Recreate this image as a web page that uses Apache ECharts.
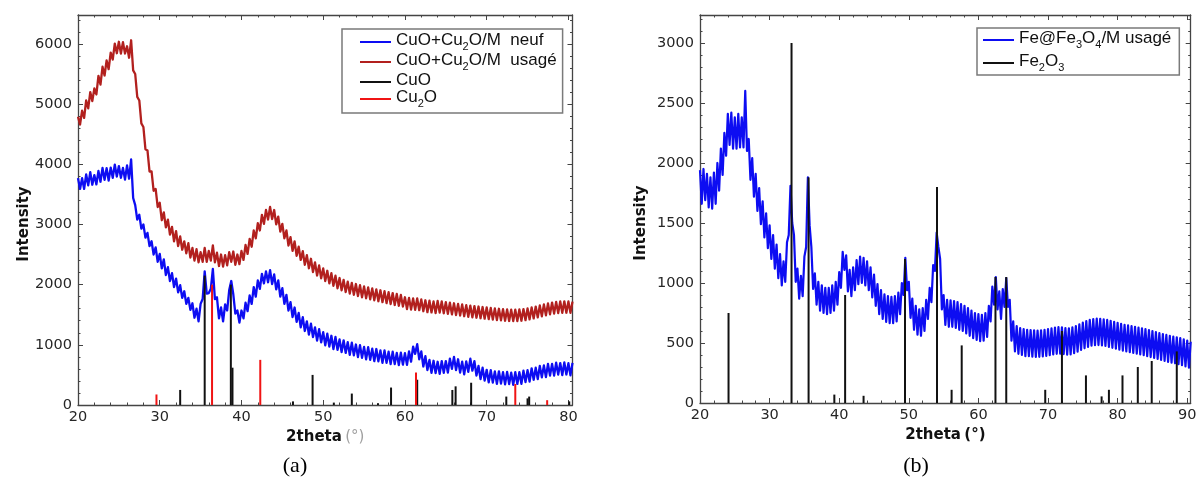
<!DOCTYPE html>
<html>
<head>
<meta charset="utf-8">
<script src="https://cdn.jsdelivr.net/npm/echarts@6/dist/echarts.min.js"></script>
<style>html,body{margin:0;padding:0;background:#fff}#c{width:1196px;height:486px}</style>
</head>
<body>
<div id="c"></div>
<script>
// ---- sampling of the diffractograms: 2theta starts at 20 deg, step 0.25 deg ----
const X_START = 20;
const X_STEP = 0.25;

// (a) CuO+Cu2O/M neuf  (20 .. 80.5), one row = one degree
const cuNeuf = [
3770,3590,3770,3590, 3830,3650,3870,3660, 3820,3665,3890,3710, 3940,3740,3935,3730,
3945,3775,3995,3795, 3970,3775,3940,3745, 3980,3760,4080,3440, 3320,3080,3160,2930,
3000,2780,2860,2640, 2720,2500,2620,2380, 2510,2270,2420,2160, 2290,2060,2190,1960,
2100,1870,1990,1780, 1890,1680,1780,1580, 1690,1450,1600,1390, 1680,1760,2220,1850,
1860,1930,2260,1760, 1790,1440,1620,1390, 1670,1570,1910,2060, 1840,1520,1570,1370,
1570,1440,1700,1560, 1820,1680,1960,1800, 2070,1930,2180,2020, 2220,2040,2240,2010,
2170,1920,2070,1800, 1940,1680,1830,1570, 1710,1460,1620,1380, 1530,1290,1460,1230,
1390,1170,1350,1130, 1290,1070,1260,1040, 1210,990,1185,970, 1150,930,1130,915,
1090,880,1075,865, 1045,835,1035,825, 1005,795,995,785, 965,758,960,752,
935,728,930,725, 908,702,906,700, 885,680,885,680, 866,662,870,670,
862,668,890,720, 970,850,1010,760, 890,640,810,580, 750,535,735,530,
718,518,730,535, 730,540,770,600, 800,580,760,540, 720,510,725,550,
770,570,730,490, 650,430,620,405, 585,375,578,372, 558,353,560,357,
545,342,550,348, 537,336,547,350, 545,352,570,380, 580,390,610,420,
620,430,650,460, 658,465,682,488, 683,488,702,505, 697,498,708,507,
695,493,700
];

// (a) CuO+Cu2O/M usage  (20 .. 80.5)
const cuUsage = [
4790,4660,4890,4770, 5060,4930,5200,5050, 5260,5160,5470,5325, 5620,5475,5725,5580,
5855,5740,6005,5845, 6035,5840,6030,5840, 5960,5770,6060,5560, 5500,5120,5060,4680,
4620,4250,4230,3880, 3880,3560,3590,3290, 3360,3070,3200,2950, 3080,2830,2960,2720,
2890,2640,2800,2580, 2720,2520,2690,2450, 2610,2400,2590,2370, 2540,2380,2610,2380,
2560,2400,2650,2370, 2530,2310,2500,2300, 2490,2320,2540,2380, 2550,2330,2500,2340,
2560,2410,2660,2510, 2760,2630,2900,2770, 3020,2900,3160,3010, 3240,3080,3290,3090,
3240,3000,3130,2880, 3010,2770,2900,2650, 2790,2560,2720,2480, 2630,2410,2555,2330,
2490,2270,2430,2210, 2370,2150,2320,2105, 2270,2060,2230,2020, 2190,1980,2150,1940,
2110,1905,2080,1875, 2050,1850,2030,1830, 2010,1810,1990,1790, 1970,1772,1954,1756,
1938,1740,1922,1724, 1906,1708,1890,1692, 1875,1678,1860,1662, 1845,1648,1830,1635,
1790,1595,1780,1585, 1772,1580,1772,1575, 1755,1558,1740,1542, 1735,1538,1722,1526,
1730,1535,1720,1525, 1710,1515,1700,1505, 1690,1495,1680,1485, 1670,1475,1660,1466,
1652,1458,1644,1450, 1636,1442,1628,1434, 1620,1426,1612,1418, 1605,1412,1599,1406,
1593,1400,1588,1396, 1585,1394,1584,1395, 1587,1400,1594,1409, 1605,1422,1620,1438,
1636,1455,1654,1473, 1672,1490,1688,1506, 1702,1518,1713,1527, 1720,1532,1723,1533,
1722,1530,1718
];

// (b) Fe@Fe3O4/M usage  (20 .. 90.5)
const feUsage = [
1940,1660,1950,1690, 1910,1630,1880,1620, 1920,1660,2000,1770, 2120,1900,2250,2060,
2410,2150,2420,2120, 2380,2120,2410,2130, 2380,2130,2600,2100, 2200,1860,2040,1720,
1910,1600,1790,1490, 1680,1380,1580,1290, 1480,1200,1400,1120, 1320,1040,1240,980,
1180,1010,1340,1400, 1810,1500,1400,1010, 1120,870,1060,890, 1220,1300,1880,1480,
1300,950,1080,820, 1010,770,980,750, 960,740,960,750, 980,770,1010,820,
1090,960,1260,1110, 1230,930,1110,890, 1130,940,1190,990, 1220,1000,1210,980,
1180,940,1130,880, 1070,810,990,740, 940,700,905,675, 890,665,885,665,
890,680,920,740, 1000,900,1210,940, 1010,710,870,610, 810,570,780,560,
790,600,860,700, 960,840,1150,1100, 1420,1300,1200,780, 900,650,860,635,
855,635,850,625, 840,610,825,600, 810,580,790,560, 770,540,750,525,
740,515,735,520, 750,550,810,680, 970,820,1050,780, 930,700,950,800,
1040,800,860,520, 680,430,640,410, 625,400,615,390, 610,390,608,386,
605,384,604,385, 606,388,610,392, 615,398,622,405, 628,410,632,412,
630,408,625,402, 622,405,630,415, 640,428,655,442, 670,456,682,468,
693,477,700,482, 703,483,702,480, 698,475,692,468, 684,460,676,452,
668,444,660,436, 652,429,646,423, 640,417,634,411, 628,405,622,399,
615,391,607,383, 599,375,591,367, 583,359,575,351, 567,343,560,337,
554,331,548,324, 540,315,530,305, 520,295,510
];

// reference patterns: [2theta, intensity]
const cuoSticks = [
[32.5,250],[35.5,2150],[38.7,2000],[38.9,620],[46.3,60],[48.7,500],[51.3,40],[53.5,190],
[56.7,30],[58.3,290],[61.5,420],[65.8,250],[66.2,310],[68.1,370],[72.4,140],[75.0,110],
[75.2,140],[80.1,60]
];
const cu2oSticks = [[29.6,175],[36.4,2000],[42.3,750],[61.35,540],[73.5,350],[77.4,80]];
const fe2o3Sticks = [
[24.1,750],[33.15,3000],[35.6,1880],[39.3,70],[40.85,900],[43.5,60],[49.45,1200],
[54.05,1800],[56.15,110],[57.6,480],[62.45,1050],[64.0,1050],[69.6,110],[72.0,600],
[75.45,230],[77.7,55],[78.75,110],[80.7,230],[82.9,300],[84.9,350],[88.5,430]
];

const NAME_NEUF = 'CuO+Cu2O/M  neuf';
const NAME_USAGE = 'CuO+Cu2O/M  usagé';
const NAME_CUO = 'CuO';
const NAME_CU2O = 'Cu2O';
const NAME_FE = 'Fe@Fe3O4/M usagé';
const NAME_FE2O3 = 'Fe2O3';

// ---------------------------------------------------------------
const BLUE = '#0d0df2', DRED = '#b2201e', RED = '#f01414', BLACK = '#111111', AX = '#444444';
const toXY = arr => arr.map((v, i) => [X_START + i * X_STEP, v]);

function stick(color, w) {
  return function (params, api) {
    const x = api.value(0), h = api.value(1);
    const a = api.coord([x, 0]), b = api.coord([x, h]);
    return { type: 'line', shape: { x1: a[0], y1: a[1], x2: b[0], y2: b[1] },
             style: { stroke: color, lineWidth: w } };
  };
}

const tickFont = { fontFamily: 'DejaVu Sans', fontSize: 14.5, color: '#262626' };
function xAx(grid, min, max, isTop, nameRich) {
  const o = {
    gridIndex: grid, type: 'value', min: min, max: max, interval: 10,
    position: isTop ? 'top' : 'bottom',
    axisLine: { show: true, onZero: false, lineStyle: { color: AX, width: 1.3 } },
    axisTick: { show: true, inside: true, length: 5, lineStyle: { color: AX, width: 1 } },
    minorTick: { show: true, splitNumber: 5, length: 2.5, lineStyle: { color: AX, width: 1 } },
    splitLine: { show: false },
    axisLabel: isTop ? { show: false } : Object.assign({ margin: 5, formatter: v => (v % 10 === 0 ? String(v) : '') }, tickFont)
  };
  if (!isTop) {
    o.name = nameRich; o.nameLocation = 'middle'; o.nameGap = 23;
    o.nameTextStyle = { rich: {
      b: { fontFamily: 'DejaVu Sans', fontWeight: 'bold', fontSize: 15, color: '#111' },
      g: { fontFamily: 'DejaVu Sans', fontSize: 15, color: grid === 0 ? '#a0a0a0' : '#111' } } };
  }
  return o;
}
function yAx(grid, max, interval, isRight, gap) {
  const o = {
    gridIndex: grid, type: 'value', min: 0, max: max, interval: interval,
    position: isRight ? 'right' : 'left',
    axisLine: { show: true, onZero: false, lineStyle: { color: AX, width: 1.3 } },
    axisTick: { show: true, inside: true, length: 5, lineStyle: { color: AX, width: 1 } },
    minorTick: { show: true, splitNumber: 5, length: 2.5, lineStyle: { color: AX, width: 1 } },
    splitLine: { show: false },
    axisLabel: isRight ? { show: false } : Object.assign({ margin: 6, formatter: v => (v % interval === 0 ? String(v) : '') }, tickFont)
  };
  if (!isRight) {
    o.name = 'Intensity'; o.nameLocation = 'middle'; o.nameGap = gap; o.nameRotate = 90;
    o.nameTextStyle = { fontFamily: 'DejaVu Sans', fontWeight: 'bold', fontSize: 15, color: '#111', padding: [0, 28, 0, 0] };
  }
  return o;
}

const legendRich = {
  n: { fontFamily: 'Liberation Sans', fontSize: 17, color: '#111', lineHeight: 20, verticalAlign: 'top' },
  s: { fontFamily: 'Liberation Sans', fontSize: 11, color: '#111', lineHeight: 20, verticalAlign: 'bottom' }
};
const legendFmt = {};
legendFmt[NAME_NEUF] = '{n|CuO+Cu}{s|2}{n|O/M  neuf}';
legendFmt[NAME_USAGE] = '{n|CuO+Cu}{s|2}{n|O/M  usagé}';
legendFmt[NAME_CUO] = '{n|CuO}';
legendFmt[NAME_CU2O] = '{n|Cu}{s|2}{n|O}';
legendFmt[NAME_FE] = '{n|Fe@Fe}{s|3}{n|O}{s|4}{n|/M usagé}';
legendFmt[NAME_FE2O3] = '{n|Fe}{s|2}{n|O}{s|3}';

const chart = echarts.init(document.getElementById('c'), null, { renderer: 'canvas' });
chart.setOption({
  animation: false,
  backgroundColor: '#ffffff',
  grid: [
    { left: 78, right: 623.5, top: 15, bottom: 81, outerBoundsMode: 'none', containLabel: false },
    { left: 700, right: 5.3, top: 15, bottom: 83, outerBoundsMode: 'none', containLabel: false }
  ],
  xAxis: [
    xAx(0, 20, 80.5, false, '{b|2theta} {g|(°)}'),
    xAx(0, 20, 80.5, true),
    xAx(1, 20, 90.5, false, '{b|2theta} {b|(°)}'),
    xAx(1, 20, 90.5, true)
  ],
  yAxis: [
    yAx(0, 6480, 1000, false, 41),
    yAx(0, 6480, 1000, true),
    yAx(1, 3233, 500, false, 51),
    yAx(1, 3233, 500, true)
  ],
  legend: [
    { data: [NAME_NEUF, NAME_USAGE, NAME_CUO, NAME_CU2O], left: 342, top: 29, orient: 'vertical',
      padding: [3, 6, 4, 18], itemGap: 0, itemWidth: 31, itemHeight: 2, icon: 'rect',
      backgroundColor: '#fff', borderColor: '#7a7a7a', borderWidth: 1.5, borderRadius: 0,
      selectedMode: false, formatter: n => legendFmt[n], textStyle: { rich: legendRich } },
    { data: [NAME_FE, NAME_FE2O3], left: 977, top: 28, orient: 'vertical',
      padding: [2, 8, 2, 6], itemGap: 3, itemWidth: 31, itemHeight: 2, icon: 'rect',
      backgroundColor: '#fff', borderColor: '#7a7a7a', borderWidth: 1.5, borderRadius: 0,
      selectedMode: false, formatter: n => legendFmt[n], textStyle: { rich: legendRich } }
  ],
  graphic: [
    { type: 'text', x: 295, y: 466, style: { text: '(a)', font: '22px "Liberation Serif"', fill: '#000', align: 'center', verticalAlign: 'middle' } },
    { type: 'text', x: 916, y: 466, style: { text: '(b)', font: '22px "Liberation Serif"', fill: '#000', align: 'center', verticalAlign: 'middle' } }
  ],
  series: [
    { type: 'line', name: NAME_NEUF, xAxisIndex: 0, yAxisIndex: 0, data: toXY(cuNeuf),
      symbol: 'none', showSymbol: false, lineStyle: { color: BLUE, width: 2.3, join: 'round' }, itemStyle: { color: BLUE }, z: 2 },
    { type: 'line', name: NAME_USAGE, xAxisIndex: 0, yAxisIndex: 0, data: toXY(cuUsage),
      symbol: 'none', showSymbol: false, lineStyle: { color: DRED, width: 2.3, join: 'round' }, itemStyle: { color: DRED }, z: 2 },
    { type: 'custom', name: NAME_CUO, xAxisIndex: 0, yAxisIndex: 0, data: cuoSticks, encode: { x: 0, y: 1 },
      renderItem: stick(BLACK, 2), itemStyle: { color: BLACK }, z: 5 },
    { type: 'custom', name: NAME_CU2O, xAxisIndex: 0, yAxisIndex: 0, data: cu2oSticks, encode: { x: 0, y: 1 },
      renderItem: stick(RED, 2), itemStyle: { color: RED }, z: 5 },
    { type: 'line', name: NAME_FE, xAxisIndex: 2, yAxisIndex: 2, data: toXY(feUsage),
      symbol: 'none', showSymbol: false, lineStyle: { color: BLUE, width: 2.2, join: 'round' }, itemStyle: { color: BLUE }, z: 2 },
    { type: 'custom', name: NAME_FE2O3, xAxisIndex: 2, yAxisIndex: 2, data: fe2o3Sticks, encode: { x: 0, y: 1 },
      renderItem: stick(BLACK, 2), itemStyle: { color: BLACK }, z: 5 }
  ]
});
</script>
</body>
</html>
